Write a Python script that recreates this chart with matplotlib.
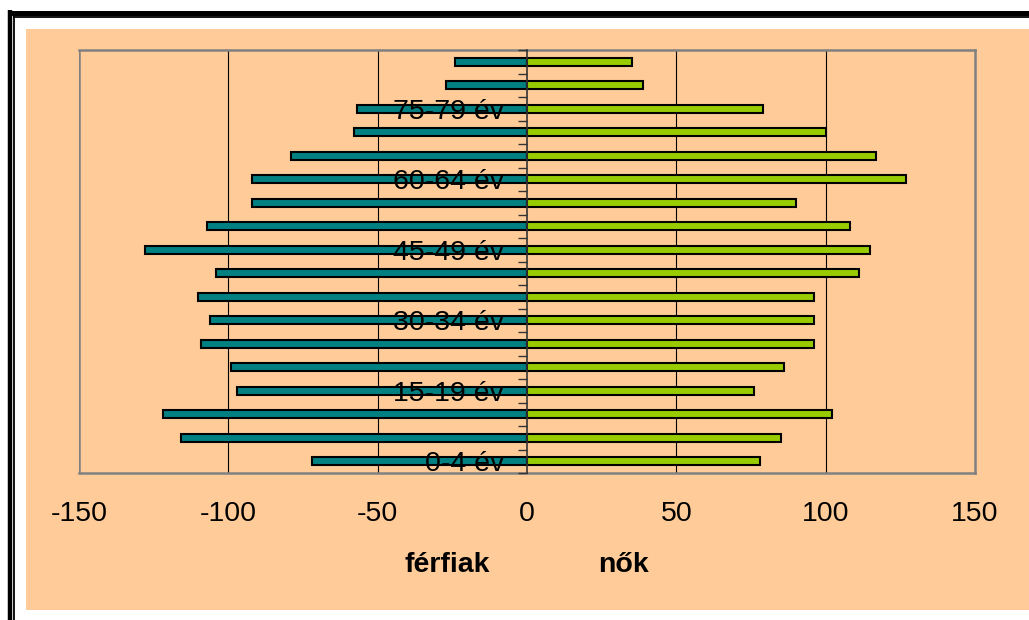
import numpy as np
import matplotlib.pyplot as plt
from matplotlib.patches import Rectangle
from matplotlib.lines import Line2D

plt.rcParams['font.family'] = ['Liberation Sans', 'DejaVu Sans']

# age groups, youngest first
age_groups = ['0-4 év', '5-9 év', '10-14 év', '15-19 év', '20-24 év', '25-29 év',
              '30-34 év', '35-39 év', '40-44 év', '45-49 év', '50-54 év', '55-59 év',
              '60-64 év', '65-69 év', '70-74 év', '75-79 év', '80-84 év', '85- év']
ferfiak = [-72, -116, -122, -97, -99, -109, -106, -110, -104, -128, -107, -92,
           -92, -79, -58, -57, -27, -24]
nok = [78, 85, 102, 76, 86, 96, 96, 96, 111, 115, 108, 90,
       127, 117, 100, 79, 39, 35]
x_ticks = [-150, -100, -50, 0, 50, 100, 150]
grid_at = [-100, -50, 50, 100]

W, H = 1029, 620
fig = plt.figure(figsize=(W / 100, H / 100), dpi=100)
fig.patch.set_facecolor('white')

# peach chart area
fig.add_artist(Rectangle((26 / W, 1 - 610 / H), (W - 26) / W, (610 - 29) / H,
                         transform=fig.transFigure, facecolor='#FFCC99',
                         edgecolor='none', zorder=0))

# double black border (left + top)
def fline(xs, ys, lw):
    fig.add_artist(Line2D([x / W for x in xs], [1 - y / H for y in ys],
                          transform=fig.transFigure, color='black', lw=lw,
                          solid_capstyle='butt'))

fline([10, 10], [H, 10], 3.2)
fline([8, W], [12.5, 12.5], 3.6)
fline([14.2, 14.2], [H, 16], 1.3)
fline([13.3, W], [17, 17], 1.3)

ax = fig.add_axes([79 / W, 1 - 473 / H, 896 / W, 423 / H])
ax.set_facecolor('none')

# gridlines behind bars, tick labels (axis) above bars
for g in grid_at:
    ax.axvline(g, color='black', lw=0.8, zorder=1)
ax.set_axisbelow(False)

y = np.arange(len(age_groups))
ax.barh(y, ferfiak, height=0.36, color='#008080', edgecolor='black', lw=1.5, zorder=2)
ax.barh(y, nok, height=0.36, color='#99CC00', edgecolor='black', lw=1.5, zorder=2)

ax.set_xlim(-150, 150)
ax.set_ylim(-0.5, len(age_groups) - 0.5)
ax.set_xticks(x_ticks)
ax.set_xticklabels([str(v) for v in x_ticks])
ax.tick_params(axis='x', length=0, pad=20, labelsize=20.5)

# y axis at zero, ticks between categories, labels every third group
ax.spines['left'].set_position(('data', 0))
ax.spines['left'].set_color('#333333')
ax.spines['left'].set_linewidth(1.2)
ax.spines['left'].set_zorder(4)
for s in ['top', 'right', 'bottom']:
    ax.spines[s].set_color('#808080')
    ax.spines[s].set_linewidth(1.8)
ax.axvline(-150, color='#808080', lw=1.8, zorder=4)

ax.set_yticks(np.arange(-0.5, len(age_groups), 1.0))
ax.set_yticklabels([])
ax.tick_params(axis='y', which='major', length=6.5, width=1.0, color='#333333', direction='out')
ax.set_yticks(y[::3], minor=True)
ax.set_yticklabels(age_groups[::3], minor=True)
ax.tick_params(axis='y', which='minor', length=0, pad=16.5, labelsize=20.5)

fig.text(447 / W, 1 - 572 / H, 'férfiak', ha='center', va='baseline',
         fontsize=20.5, fontweight='bold')
fig.text(623 / W, 1 - 572 / H, 'nők', ha='center', va='baseline',
         fontsize=20.5, fontweight='bold')

fig.savefig('out.png', dpi=100)
